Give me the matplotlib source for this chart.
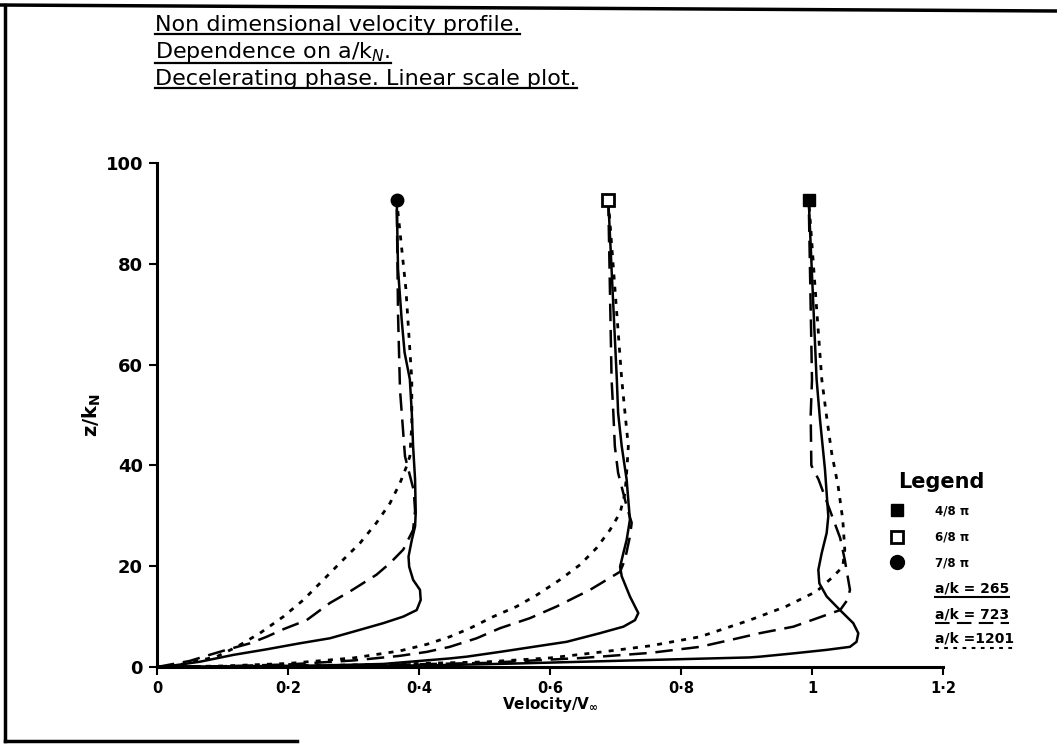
import matplotlib
matplotlib.use('Agg')
import matplotlib.pyplot as plt
from matplotlib.lines import Line2D

plt.rcParams['font.family'] = ['DejaVu Sans']

W, H = 1057, 745

# 7/8 pi (circle) profiles, velocity u and height z
left_265_u = [0, 0.02, 0.0656, 0.1165, 0.167, 0.218, 0.264, 0.305, 0.3455, 0.376, 0.3965, 0.4026,
              0.4015, 0.391, 0.385, 0.384, 0.389, 0.394, 0.395, 0.394, 0.391, 0.389, 0.386,
              0.378, 0.3735, 0.368, 0.366]
left_265_z = [0, 0.2, 1.05, 2.4, 3.5, 4.7, 5.7, 7.2, 8.7, 10.0, 11.3, 13.3,
              15.3, 17.3, 19.9, 21.9, 25.2, 27.9, 30.6, 37.2, 43.8, 50.4, 57.1,
              62.4, 69, 78.9, 92.6]
left_723_u = [0, 0.05, 0.08, 0.106, 0.142, 0.1675, 0.193, 0.2285, 0.264, 0.2947, 0.335, 0.3557,
              0.376, 0.391, 0.394, 0.392, 0.3786, 0.371, 0.368, 0.366]
left_723_z = [0, 1.2, 2.4, 3.4, 4.7, 6.0, 7.5, 9.3, 12.7, 15.0, 18.3, 20.6,
              23.3, 27.2, 31, 35, 41.8, 55, 70, 92.6]
left_1201_u = [0, 0.04, 0.091, 0.1217, 0.157, 0.193, 0.2234, 0.254, 0.2844, 0.31, 0.335, 0.3557,
               0.371, 0.381, 0.386, 0.389, 0.389, 0.38, 0.366]
left_1201_z = [0, 0.6, 2.05, 4.0, 6.7, 10.0, 13.3, 17.3, 21.3, 24.6, 28.6, 32.5,
               36.5, 39.8, 41.8, 48, 57, 75, 92.6]

# 6/8 pi (open square) profiles
mid_265_u = [0, 0.1, 0.25, 0.345, 0.447, 0.4728, 0.5237, 0.5745, 0.6255, 0.676, 0.712, 0.7298,
             0.7348, 0.722, 0.7095, 0.707, 0.712, 0.717, 0.722, 0.717, 0.7095, 0.704, 0.702, 0.689]
mid_265_z = [0, 0.1, 0.3, 0.6, 1.7, 2.05, 3.0, 4.0, 5.0, 6.7, 8.0, 9.3,
             10.7, 14.0, 18.0, 19.9, 22.6, 25.2, 29.2, 37.2, 43.8, 50.4, 57.1, 92.6]
mid_723_u = [0, 0.1, 0.2, 0.3, 0.37, 0.412, 0.447, 0.488, 0.5237, 0.5695, 0.61, 0.661,
             0.6866, 0.707, 0.7145, 0.722, 0.7247, 0.717, 0.704, 0.699, 0.6967, 0.694, 0.689]
mid_723_z = [0, 0.15, 0.5, 1.3, 2.2, 3.0, 4.0, 5.7, 7.7, 9.7, 12.0, 15.3,
             17.3, 18.9, 21.3, 25.9, 28.6, 31.9, 38.5, 43.8, 50.4, 57.1, 92.6]
mid_1201_u = [0, 0.1, 0.2, 0.3, 0.371, 0.412, 0.447, 0.478, 0.5135, 0.549, 0.58, 0.615,
              0.646, 0.671, 0.6916, 0.707, 0.7145, 0.717, 0.7196, 0.7145, 0.7095, 0.689]
mid_1201_z = [0, 0.2, 0.7, 1.8, 3.2, 4.5, 6.0, 7.7, 10.0, 12.0, 14.3, 17.3,
              20.3, 23.6, 27.2, 30.6, 34.5, 38.5, 43.8, 50.4, 57.1, 92.6]

# 4/8 pi (filled square) profiles
right_265_u = [0, 0.3, 0.447, 0.55, 0.753, 0.905, 0.9206, 0.9715, 1.0224, 1.058, 1.068, 1.0707,
               1.063, 1.0427, 1.0224, 1.0112, 1.0097, 1.0148, 1.0224, 1.0249, 1.0198, 1.0122,
               1.007, 0.995]
right_265_z = [0, 0.15, 0.4, 0.7, 1.4, 1.9, 2.05, 2.7, 3.4, 4.0, 5.0, 6.7,
               8.7, 11.3, 14.0, 16.6, 19.3, 22.6, 26.6, 29.9, 39.2, 49.1,
               57.1, 92.6]
right_723_u = [0, 0.3, 0.5, 0.65, 0.753, 0.829, 0.88, 0.92, 0.9715, 1.043, 1.054, 1.058,
               1.05, 1.043, 1.01, 0.999, 0.998, 1.0, 0.995]
right_723_z = [0, 0.3, 0.8, 1.8, 2.8, 4.0, 5.5, 6.7, 8.0, 11.3, 13.3, 15.3,
               21.3, 25.6, 37.2, 40, 50, 57, 92.6]
right_1201_u = [0, 0.3, 0.5, 0.6, 0.68, 0.753, 0.829, 0.905, 0.96, 1.007, 1.032, 1.047,
                1.05, 1.047, 1.04, 1.03, 1.023, 1.015, 0.995]
right_1201_z = [0, 0.4, 1.0, 1.8, 3.0, 4.2, 6.0, 9.3, 12.0, 15.0, 17.9, 19.9,
                23.3, 29.2, 35.8, 42.5, 49, 57, 92.6]

tops_u = [0.995, 0.689, 0.366]
tops_z = [92.6, 92.6, 92.6]
phase_labels = ['4/8 π', '6/8 π', '7/8 π']
ak_labels = ['a/k = 265', 'a/k = 723', 'a/k =1201']

xticks = [0, 0.2, 0.4, 0.6, 0.8, 1.0, 1.2]
xticklabels = ['0', '0·2', '0·4', '0·6', '0·8', '1', '1·2']
yticks = [0, 20, 40, 60, 80, 100]

styles = {
    '265': dict(ls='-', lw=1.8),
    '723': dict(ls=(0, (7, 3.5)), lw=1.8),
    '1201': dict(ls=(0, (1.8, 2.6)), lw=2.0),
}

fig = plt.figure(figsize=(W / 100, H / 100), dpi=100)
ax = fig.add_axes([157 / W, 1 - 667 / H, (943 - 157) / W, (667 - 163) / H])

ax.plot(left_265_u, left_265_z, color='black', **styles['265'])
ax.plot(left_723_u, left_723_z, color='black', **styles['723'])
ax.plot(left_1201_u, left_1201_z, color='black', **styles['1201'])
ax.plot(mid_265_u, mid_265_z, color='black', **styles['265'])
ax.plot(mid_723_u, mid_723_z, color='black', **styles['723'])
ax.plot(mid_1201_u, mid_1201_z, color='black', **styles['1201'])
ax.plot(right_265_u, right_265_z, color='black', **styles['265'])
ax.plot(right_723_u, right_723_z, color='black', **styles['723'])
ax.plot(right_1201_u, right_1201_z, color='black', **styles['1201'])

ax.plot(tops_u[0], tops_z[0], marker='s', ms=9, color='black', clip_on=False)
ax.plot(tops_u[1], tops_z[1], marker='s', ms=9, mfc='white', mec='black', mew=2, clip_on=False)
ax.plot(tops_u[2], tops_z[2], marker='o', ms=9, color='black', clip_on=False)

ax.set_xlim(0, 1.2)
ax.set_ylim(0, 100)
ax.set_xticks(xticks)
ax.set_xticklabels(xticklabels, fontsize=10.5, fontweight='bold')
ax.set_yticks(yticks)
ax.set_yticklabels([str(v) for v in yticks], fontsize=13, fontweight='bold')
ax.tick_params(width=1.5, length=6, pad=4)
for s in ['top', 'right']:
    ax.spines[s].set_visible(False)
for s in ['left', 'bottom']:
    ax.spines[s].set_linewidth(2.2)

ax.set_xlabel('Velocity/V$_{\\mathbf{\\infty}}$', fontsize=11, fontweight='bold', labelpad=-1)
ax.set_ylabel('z/k$_{\\mathbf{N}}$', fontsize=14, fontweight='bold', labelpad=2)

# title lines, underlined
title_lines = ['Non dimensional velocity profile.',
               'Dependence on a/k$_{N}$.',
               'Decelerating phase. Linear scale plot.']
title_y = [31, 58, 85]
title_objs = []
for t, yy in zip(title_lines, title_y):
    title_objs.append(fig.text(155 / W, 1 - yy / H, t, fontsize=16, ha='left', va='baseline'))

# legend
fig.text(898 / W, 1 - 488 / H, 'Legend', fontsize=15, fontweight='bold', ha='left', va='baseline')
mk_y = [510, 537, 562]
fig.add_artist(Line2D([897 / W], [1 - mk_y[0] / H], marker='s', ms=9, color='black', ls=''))
fig.add_artist(Line2D([897 / W], [1 - mk_y[1] / H], marker='s', ms=9, mfc='white', mec='black', mew=2, ls=''))
fig.add_artist(Line2D([897 / W], [1 - mk_y[2] / H], marker='o', ms=10, color='black', ls=''))
for lab, yy in zip(phase_labels, mk_y):
    fig.text(935 / W, 1 - (yy + 4) / H, lab, fontsize=8.5, fontweight='bold', ha='left', va='baseline')

ak_y = [592, 618, 643]
ak_objs = []
for lab, yy in zip(ak_labels, ak_y):
    ak_objs.append(fig.text(935 / W, 1 - yy / H, lab, fontsize=10, fontweight='bold', ha='left', va='baseline'))

fig.canvas.draw()
r = fig.canvas.get_renderer()
for t in title_objs:
    bb = t.get_window_extent(r)
    x0, x1 = bb.x0 / W, bb.x1 / W
    yb = (bb.y0 + 1) / H
    fig.add_artist(Line2D([x0, x1], [yb, yb], color='black', lw=1.6))
for t, k in zip(ak_objs, ['265', '723', '1201']):
    bb = t.get_window_extent(r)
    x0, x1 = bb.x0 / W, bb.x1 / W
    yb = (bb.y0 - 2) / H
    st = styles[k]
    fig.add_artist(Line2D([x0, x1], [yb, yb], color='black', ls=st['ls'], lw=1.5))

# page border
fig.add_artist(Line2D([0, 1], [1 - 5 / H, 1 - 11 / H], color='black', lw=2.5))
fig.add_artist(Line2D([5 / W, 5 / W], [1 - 5 / H, 1 - 741 / H], color='black', lw=2.5))
fig.add_artist(Line2D([5 / W, 297 / W], [1 - 741 / H, 1 - 741 / H], color='black', lw=2.5))

fig.savefig('out.png', dpi=100)
